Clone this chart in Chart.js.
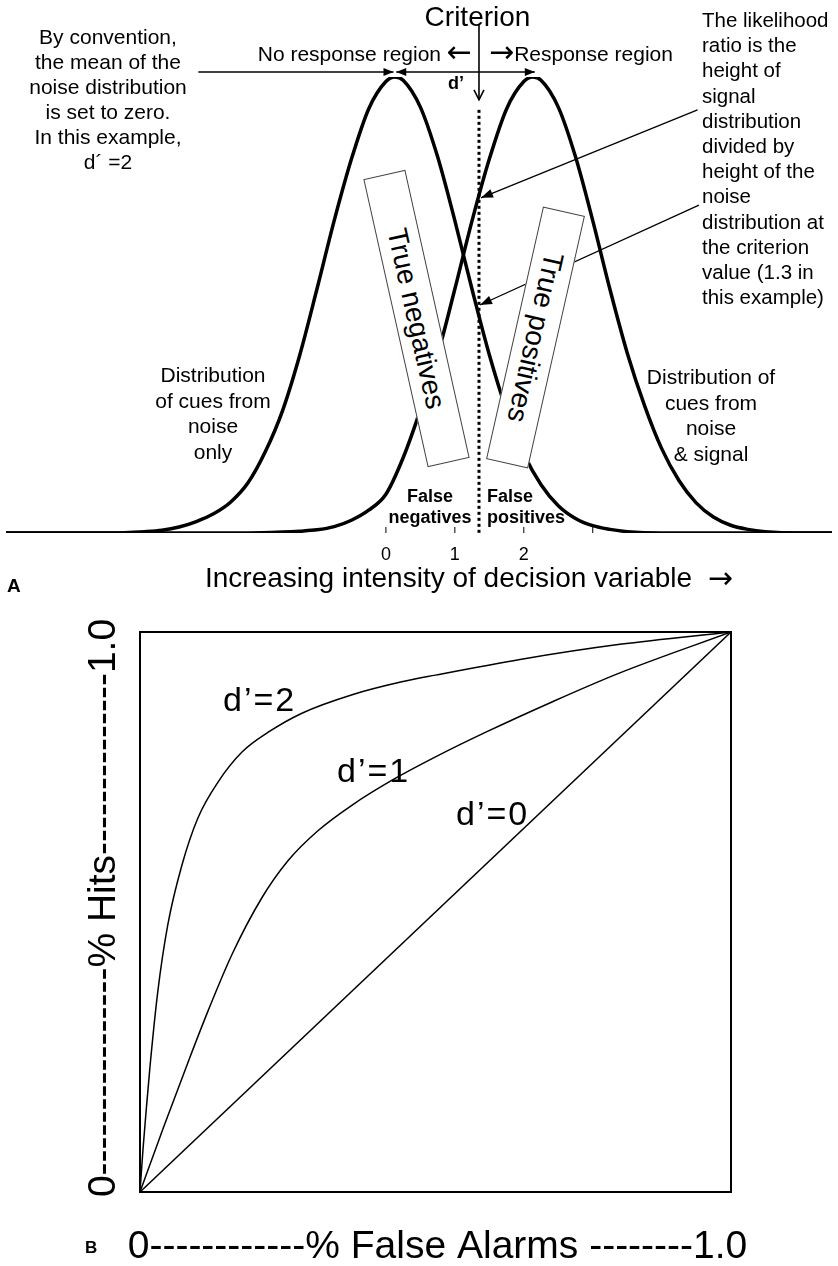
<!DOCTYPE html>
<html>
<head>
<meta charset="utf-8">
<script src="https://cdn.jsdelivr.net/npm/chart.js@4.4.1/dist/chart.umd.min.js"></script>
<style>
  html, body { margin: 0; padding: 0; background: #fff; }
  body { width: 838px; height: 1266px; position: relative; overflow: hidden;
         font-family: "Liberation Sans", Arial, sans-serif; color: #000; }
  canvas { position: absolute; left: 0; }
  #chartA { top: 0; }
  #chartB { top: 600px; }
  .t { position: absolute; white-space: nowrap; }
  .note { font-size: 21px; line-height: 25px; }
  .bold { font-weight: bold; }
  .arr { font-family: "DejaVu Sans", sans-serif; font-size: 30px; line-height: 0; vertical-align: -1px; }
  .box { position: absolute; background: #fff; border: 1px solid #444; box-sizing: border-box;
         font-size: 28px; line-height: 41px; text-align: center; white-space: nowrap; }
</style>
</head>
<body>
<canvas id="chartA" width="838" height="600"></canvas>
<canvas id="chartB" width="838" height="666"></canvas>

<!-- panel A notes -->
<div class="t" style="left:380px;top:3px;width:195px;text-align:center;font-size:28px;line-height:28px;">Criterion</div>
<div class="t note" style="left:200px;top:41px;width:272px;text-align:right;">No response region <span class="arr">&larr;</span></div>
<div class="t note" style="left:489px;top:41px;"><span class="arr">&rarr;</span>Response region</div>
<div class="t bold" style="left:448px;top:74px;font-size:18px;line-height:18px;">d’</div>
<div class="t note" style="left:8px;top:24px;width:200px;text-align:center;">By convention,<br>the mean of the<br>noise distribution<br>is set to zero.<br>In this example,<br>d´ =2</div>
<div class="t" style="left:702px;top:7px;font-size:20.5px;line-height:25.2px;">The likelihood<br>ratio is the<br>height of<br>signal<br>distribution<br>divided by<br>height of the<br>noise<br>distribution at<br>the criterion<br>value (1.3 in<br>this example)</div>
<div class="t note" style="left:113px;top:362px;width:200px;text-align:center;line-height:25.5px;">Distribution<br>of cues from<br>noise<br>only</div>
<div class="t note" style="left:611px;top:364px;width:200px;text-align:center;line-height:25.5px;">Distribution of<br>cues from<br>noise<br>&amp; signal</div>
<div class="t bold" style="left:370px;top:486px;width:120px;text-align:center;font-size:18px;line-height:21px;">False<br>negatives</div>
<div class="t bold" style="left:487px;top:486px;font-size:18px;line-height:21px;">False<br>positives</div>
<div class="box" style="left:268.9px;top:296.5px;width:295px;height:43px;transform:rotate(77.4deg);">True negatives</div>
<div class="box" style="left:406px;top:315.5px;width:259px;height:43px;transform:rotate(102.7deg);">True positives</div>
<div class="t" style="left:205px;top:564px;font-size:28px;line-height:28px;">Increasing intensity of decision variable&nbsp; <span class="arr">&rarr;</span></div>
<div class="t bold" style="left:7px;top:576px;font-size:19px;line-height:19px;">A</div>

<!-- panel B notes -->
<div class="t" style="left:223px;top:682px;font-size:34px;line-height:34px;letter-spacing:2px;">d’=2</div>
<div class="t" style="left:337px;top:753px;font-size:34px;line-height:34px;letter-spacing:2px;">d’=1</div>
<div class="t" style="left:456px;top:796px;font-size:34px;line-height:34px;letter-spacing:2px;">d’=0</div>
<div class="t bold" style="left:85px;top:1239px;font-size:17px;line-height:17px;">B</div>

<script>
// ---- panel A: decision variable distributions (x in d' units, y = height relative to peak)
const noiseX = [-5.51, -4, -3.5, -3.25, -3, -2.75, -2.5, -2.25, -2, -1.75, -1.5, -1.25, -1, -0.75, -0.5, -0.25, 0, 0.13, 0.25, 0.5, 0.75, 1, 1.25, 1.5, 1.75, 2, 2.25, 2.5, 2.75, 3, 3.25, 3.5, 4, 6.47];
const noiseY = [0, 0, 0.003, 0.006, 0.013, 0.025, 0.042, 0.068, 0.11, 0.178, 0.268, 0.39, 0.535, 0.685, 0.82, 0.93, 0.99, 1, 0.993, 0.934, 0.825, 0.685, 0.534, 0.391, 0.269, 0.174, 0.106, 0.06, 0.032, 0.016, 0.008, 0.003, 0, 0];
const signalX = [-5.51, -2, -1.5, -1.25, -1, -0.75, -0.5, -0.25, 0, 0.25, 0.5, 0.75, 1, 1.25, 1.5, 1.75, 2, 2.13, 2.25, 2.5, 2.75, 3, 3.25, 3.5, 3.75, 4, 4.25, 4.5, 4.75, 5, 5.25, 5.5, 6, 6.47];
const signalY = [0, 0, 0.002, 0.004, 0.007, 0.014, 0.028, 0.05, 0.085, 0.165, 0.27, 0.39, 0.535, 0.685, 0.82, 0.93, 0.99, 1, 0.993, 0.934, 0.825, 0.685, 0.534, 0.395, 0.28, 0.185, 0.115, 0.066, 0.035, 0.017, 0.008, 0.003, 0, 0];
const tickValues = [0, 1, 2, 3];
const tickLabels = ['0', '1', '2', ''];
const criterion = 1.35;
const signalAtCriterion = 0.735;
const noiseAtCriterion = 0.5;

// ---- panel B: ROC curves (false alarm rate vs hit rate)
const rocFA2 = [0, 0.005, 0.01, 0.017, 0.03, 0.047, 0.071, 0.098, 0.132, 0.173, 0.217, 0.274, 0.359, 0.443, 0.5, 0.643, 0.812, 1];
const rocHit2 = [0, 0.075, 0.14, 0.225, 0.357, 0.477, 0.584, 0.668, 0.732, 0.786, 0.821, 0.855, 0.888, 0.911, 0.923, 0.951, 0.978, 1];
const rocFA1 = [0, 0.04, 0.081, 0.115, 0.156, 0.206, 0.25, 0.301, 0.359, 0.431, 0.5, 0.587, 0.699, 0.812, 1];
const rocHit1 = [0, 0.116, 0.231, 0.323, 0.425, 0.525, 0.591, 0.645, 0.691, 0.738, 0.777, 0.822, 0.876, 0.927, 1];
const rocFA0 = [0, 1];
const rocHit0 = [0, 1];
const xTitleB = '0------------% False Alarms --------1.0';
const yTitleB = '0----------------% Hits--------------1.0';

const FONT = '"Liberation Sans", Arial, sans-serif';
const toPoints = (xs, ys) => xs.map((x, i) => ({ x: x, y: ys[i] }));

function arrowHead(ctx, x1, y1, x2, y2, len, half, filled) {
  const a = Math.atan2(y2 - y1, x2 - x1);
  const bx = x2 - len * Math.cos(a), by = y2 - len * Math.sin(a);
  const nx = -Math.sin(a) * half, ny = Math.cos(a) * half;
  ctx.beginPath();
  ctx.moveTo(bx + nx, by + ny);
  ctx.lineTo(x2, y2);
  ctx.lineTo(bx - nx, by - ny);
  if (filled) { ctx.closePath(); ctx.fill(); } else { ctx.stroke(); }
}

function arrow(ctx, x1, y1, x2, y2, len, half, filled) {
  ctx.beginPath();
  ctx.moveTo(x1, y1);
  ctx.lineTo(x2, y2);
  ctx.stroke();
  arrowHead(ctx, x1, y1, x2, y2, len, half, filled);
}

// arrows, criterion line and tick marks for panel A
const annotateA = {
  id: 'annotateA',
  afterDatasetsDraw(chart) {
    const ctx = chart.ctx;
    const px = v => chart.scales.x.getPixelForValue(v);
    const py = v => chart.scales.y.getPixelForValue(v);
    ctx.save();
    ctx.strokeStyle = '#000';
    ctx.fillStyle = '#000';

    // small tick marks on the axis
    ctx.lineWidth = 1;
    tickValues.forEach(v => {
      ctx.beginPath();
      ctx.moveTo(px(v), py(0));
      ctx.lineTo(px(v), py(0) - 6);
      ctx.stroke();
    });

    // dotted criterion line
    ctx.lineWidth = 3;
    ctx.setLineDash([3, 3]);
    ctx.beginPath();
    ctx.moveTo(px(criterion), py(0.928));
    ctx.lineTo(px(criterion), py(0));
    ctx.stroke();
    ctx.setLineDash([]);

    // criterion arrow
    ctx.lineWidth = 1.6;
    arrow(ctx, px(criterion), py(1.114), px(criterion), py(0.95), 10, 5, false);

    // mean / d' arrows
    ctx.lineWidth = 1.4;
    const yTop = py(1.011);
    arrow(ctx, px(-2.72), yTop, px(0.11), yTop, 10, 4, true);
    arrow(ctx, px(2.16), yTop, px(0.15), yTop, 10, 4, true);
    arrowHead(ctx, px(0.15), yTop, px(2.16), yTop, 10, 4, true);

    // likelihood ratio arrows
    ctx.lineWidth = 1.3;
    arrow(ctx, px(4.52), py(0.928), px(criterion) + 2, py(signalAtCriterion), 12, 4.5, true);
    arrow(ctx, px(4.54), py(0.719), px(criterion) + 1, py(noiseAtCriterion), 12, 4.5, true);
    ctx.restore();
  }
};

const curveStyle = {
  borderColor: '#000',
  borderWidth: 3.5,
  pointRadius: 0,
  fill: false,
  cubicInterpolationMode: 'monotone'
};

new Chart(document.getElementById('chartA'), {
  type: 'line',
  data: {
    datasets: [
      Object.assign({ label: 'Noise only', data: toPoints(noiseX, noiseY) }, curveStyle),
      Object.assign({ label: 'Noise & signal', data: toPoints(signalX, signalY) }, curveStyle)
    ]
  },
  options: {
    responsive: false,
    animation: false,
    layout: { padding: { top: 77, left: 6, right: 6, bottom: 0 } },
    plugins: { legend: { display: false }, tooltip: { enabled: false } },
    scales: {
      x: {
        type: 'linear',
        min: -5.51,
        max: 6.47,
        grid: { display: false, drawTicks: false },
        border: { display: false },
        afterBuildTicks: scale => { scale.ticks = tickValues.map(v => ({ value: v })); },
        afterFit: scale => { scale.height = 67; },
        ticks: {
          autoSkip: false,
          padding: 11,
          color: '#000',
          font: { family: FONT, size: 18 },
          callback: (value, index) => tickLabels[index]
        }
      },
      y: { display: false, min: 0, max: 1 }
    }
  },
  plugins: [annotateA]
});

// frame and axis captions around the ROC plot
const frameB = {
  id: 'frameB',
  beforeDatasetsDraw(chart) {
    const { ctx, chartArea: a } = chart;
    ctx.save();
    ctx.strokeStyle = '#000';
    ctx.lineWidth = 2;
    ctx.strokeRect(a.left, a.top, a.right - a.left, a.bottom - a.top);
    ctx.fillStyle = '#000';
    ctx.font = '39px ' + FONT;
    ctx.textAlign = 'center';
    ctx.textBaseline = 'middle';
    ctx.fillText(xTitleB, (a.left + a.right) / 2 + 2, a.bottom + 55.5);
    ctx.translate(104, (a.top + a.bottom) / 2 - 4);
    ctx.rotate(-Math.PI / 2);
    ctx.fillText(yTitleB, 0, 0);
    ctx.restore();
  }
};

const rocStyle = { borderColor: '#000', borderWidth: 1.5, pointRadius: 0, fill: false, cubicInterpolationMode: 'monotone' };

new Chart(document.getElementById('chartB'), {
  type: 'line',
  data: {
    datasets: [
      Object.assign({ label: "d'=2", data: toPoints(rocFA2, rocHit2) }, rocStyle),
      Object.assign({ label: "d'=1", data: toPoints(rocFA1, rocHit1) }, rocStyle),
      Object.assign({ label: "d'=0", data: toPoints(rocFA0, rocHit0) }, rocStyle)
    ]
  },
  options: {
    responsive: false,
    animation: false,
    layout: { padding: { top: 32, right: 107, left: 0, bottom: 0 } },
    plugins: { legend: { display: false }, tooltip: { enabled: false } },
    scales: {
      x: {
        type: 'linear', min: 0, max: 1,
        grid: { display: false, drawTicks: false },
        border: { display: false },
        ticks: { display: false },
        afterFit: scale => { scale.height = 74; }
      },
      y: {
        type: 'linear', min: 0, max: 1,
        grid: { display: false, drawTicks: false },
        border: { display: false },
        ticks: { display: false },
        afterFit: scale => { scale.width = 140; }
      }
    }
  },
  plugins: [frameB]
});
</script>
</body>
</html>
